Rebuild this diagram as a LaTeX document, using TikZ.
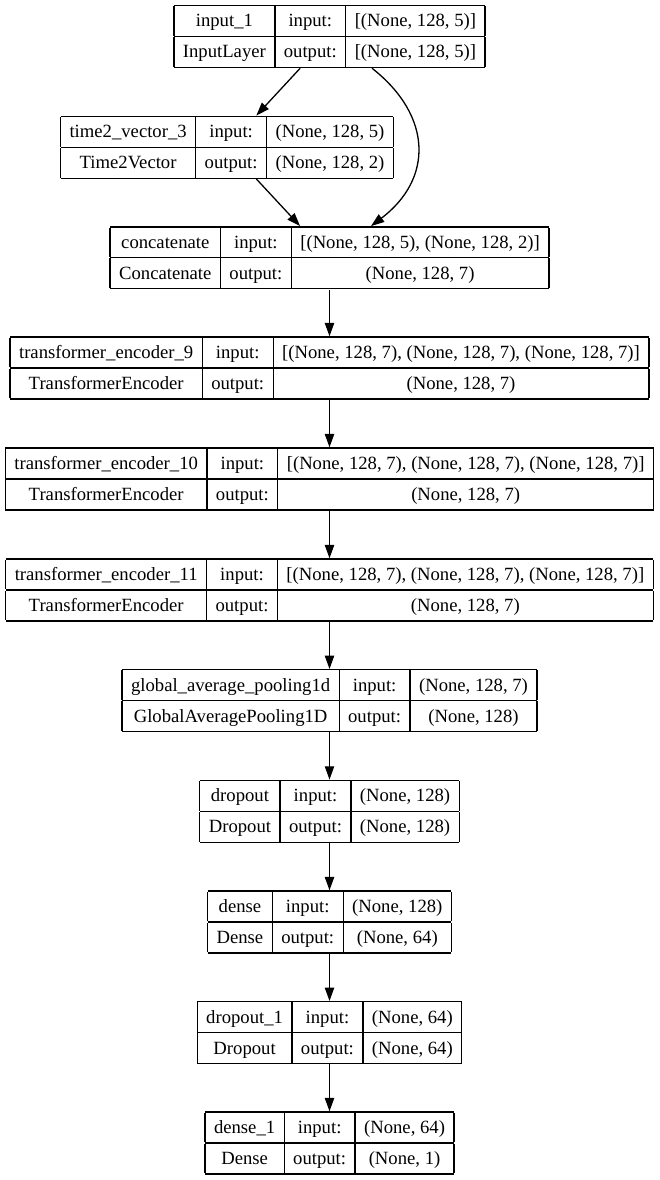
\documentclass[tikz,border=0pt]{standalone}
\usepackage{fontspec}
\setmainfont{Liberation Serif}
\usepackage{tikz}
\usetikzlibrary{arrows.meta}

\setlength{\tabcolsep}{9pt}
\setlength{\arrayrulewidth}{1.3pt}
\renewcommand{\arraystretch}{1.32}

\newcommand{\layerbox}[4]{%
  \begin{tabular}{|c|c|c|}\hline
    #1 & input: & #3\\\hline
    #2 & output: & #4\\\hline
  \end{tabular}}

\begin{document}
\begin{tikzpicture}[x=1pt, y=-1pt,
    layer/.style={inner sep=0pt, font=\fontsize{18.67pt}{22.4pt}\selectfont},
    flow/.style={-{Triangle[length=13.3pt, width=9.3pt]}, line width=1.3pt}
  ]
  \useasboundingbox (0,0) rectangle (659,1180);
  % Layers
  \node[layer] (in1) at (329.5, 36.5) {\layerbox{input\_1}{InputLayer}{[(None, 128, 5)]}{[(None, 128, 5)]}};
  \node[layer] (t2v) at (227, 147.3) {\layerbox{time2\_vector\_3}{Time2Vector}{(None, 128, 5)}{(None, 128, 2)}};
  \node[layer] (cat) at (329.5, 257.8) {\layerbox{concatenate}{Concatenate}{[(None, 128, 5), (None, 128, 2)]}{(None, 128, 7)}};
  \node[layer] (enc9) at (329.5, 368) {\layerbox{transformer\_encoder\_9}{TransformerEncoder}{[(None, 128, 7), (None, 128, 7), (None, 128, 7)]}{(None, 128, 7)}};
  \node[layer] (enc10) at (329.5, 479) {\layerbox{transformer\_encoder\_10}{TransformerEncoder}{[(None, 128, 7), (None, 128, 7), (None, 128, 7)]}{(None, 128, 7)}};
  \node[layer] (enc11) at (329.5, 590) {\layerbox{transformer\_encoder\_11}{TransformerEncoder}{[(None, 128, 7), (None, 128, 7), (None, 128, 7)]}{(None, 128, 7)}};
  \node[layer] (gap) at (329.5, 700.7) {\layerbox{global\_average\_pooling1d}{GlobalAveragePooling1D}{(None, 128, 7)}{(None, 128)}};
  \node[layer] (drop) at (329.5, 811.3) {\layerbox{dropout}{Dropout}{(None, 128)}{(None, 128)}};
  \node[layer] (dense) at (329.5, 922) {\layerbox{dense}{Dense}{(None, 128)}{(None, 64)}};
  \node[layer] (drop1) at (329.5, 1032.7) {\layerbox{dropout\_1}{Dropout}{(None, 64)}{(None, 64)}};
  \node[layer] (dense1) at (329.5, 1143) {\layerbox{dense\_1}{Dense}{(None, 64)}{(None, 1)}};
  % Edges
  \draw[flow] (in1) -- (t2v);
  \draw[flow] ([xshift=42.5pt]in1.south) .. controls +(61,48) and +(62,-47) .. ([xshift=41.5pt]cat.north);
  \draw[flow] (t2v) -- (cat);
  \draw[flow] (cat) -- (enc9);
  \draw[flow] (enc9) -- (enc10);
  \draw[flow] (enc10) -- (enc11);
  \draw[flow] (enc11) -- (gap);
  \draw[flow] (gap) -- (drop);
  \draw[flow] (drop) -- (dense);
  \draw[flow] (dense) -- (drop1);
  \draw[flow] (drop1) -- (dense1);
\end{tikzpicture}
\end{document}
